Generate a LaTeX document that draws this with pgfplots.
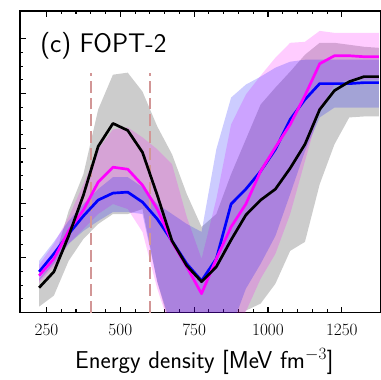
\documentclass[border=0pt]{standalone}
\usepackage{pgfplots}
\usepackage{pgfplotstable}
\pgfplotsset{compat=1.18}
\usepgfplotslibrary{fillbetween}

\definecolor{dashc}{RGB}{210,150,150}
\definecolor{mag}{RGB}{255,0,255}
\definecolor{blu}{RGB}{0,0,255}

% medians and band limits for the three models
\pgfplotstableread{
x    bk    mg    bl    gup   glo    mup   mlo    bup   blo
225  0.455 0.673 0.745 0.618 0.109  0.873 0.545  0.945 0.582
275  0.745 0.982 1.073 0.945 0.309  1.255 0.836  1.291 0.891
325  1.400 1.491 1.436 1.855 0.945  1.745 1.255  1.673 1.255
375  2.145 1.873 1.764 2.527 1.345  2.345 1.527  1.982 1.491
425  3.036 2.382 2.055 3.709 1.618  2.982 1.800  2.255 1.673
475  3.455 2.655 2.182 4.345 1.800  3.345 1.982  2.473 1.836
525  3.327 2.618 2.200 4.382 1.800  3.382 1.891  2.473 1.836
575  2.927 2.327 2.018 4.036 1.891  3.200 1.473  2.291 1.800
625  2.145 1.891 1.709 3.400 0.564  2.982 0.436  1.982 0.564
675  1.309 1.291 1.309 2.891 -0.382 2.709 -0.382 1.800 -0.291
725  0.855 0.836 0.891 2.164 -0.836 1.745 -0.836 1.618 -0.836
775  0.564 0.345 0.582 1.564 -1.018 0.982 -1.018 1.473 -1.018
825  0.836 0.982 0.982 1.800 -0.927 2.073 -0.927 2.982 -0.927
875  1.327 1.564 1.982 2.527 -0.291 3.436 -0.564 3.927 -0.291
925  1.782 1.982 2.255 3.164 0.036  3.982 0.018  4.164 0.436
975  2.055 2.582 2.582 3.800 0.164  4.327 0.618  4.309 0.891
1025 2.255 3.018 2.982 4.109 0.527  4.655 1.073  4.473 1.400
1075 2.636 3.436 3.527 4.400 1.127  4.927 1.800  4.582 2.164
1125 3.073 3.964 3.891 4.709 1.291  4.945 2.764  4.618 2.945
1175 3.709 4.545 4.182 4.927 2.345  5.145 3.709  4.618 3.564
1225 4.055 4.691 4.182 4.927 3.073  5.109 4.164  4.618 3.745
1275 4.218 4.691 4.182 4.891 3.564  5.109 4.255  4.618 3.745
1325 4.309 4.673 4.200 4.855 3.582  5.109 4.255  4.618 3.745
1375 4.309 4.673 4.200 4.836 3.582  5.109 4.255  4.618 3.745
}\bands

\begin{document}
\begin{tikzpicture}
\begin{axis}[
  at={(0,0)}, anchor=south west,
  scale only axis, width=362pt, height=303pt,
  xmin=160, xmax=1380, ymin=0, ymax=5.509,
  xtick={250,500,750,1000,1250}, minor x tick num=4,
  ytick={0,1,2,3,4,5}, minor y tick num=3, yticklabels={},
  /pgf/number format/1000 sep={},
  tick align=inside, xtick pos=both, ytick pos=left,
  major tick length=6pt, minor tick length=3.5pt,
  axis line style={line width=1.5pt},
  every tick/.style={black, line width=1.1pt},
  xticklabel style={font=\fontsize{19}{19}\selectfont, anchor=base, yshift=-23pt},
  xlabel={\textsf{Energy density [MeV fm$^{-3}$]}},
  xlabel style={font=\fontsize{24.5}{24.5}\selectfont, anchor=base,
    at={(axis description cs:0.512,-0.185)}},
  clip=true,
]
% phase-transition window
\addplot[dashc, line width=2.6pt, dash pattern=on 12pt off 5pt] coordinates {(400,0) (400,4.38)};
\addplot[dashc, line width=2.6pt, dash pattern=on 12pt off 5pt] coordinates {(600,0) (600,4.38)};

% credible bands
\addplot[name path=gu, draw=none] table[x=x, y=gup] {\bands};
\addplot[name path=gl, draw=none] table[x=x, y=glo] {\bands};
\addplot[black, fill opacity=0.2, draw=none] fill between[of=gu and gl];

\addplot[name path=mu, draw=none] table[x=x, y=mup] {\bands};
\addplot[name path=ml, draw=none] table[x=x, y=mlo] {\bands};
\addplot[mag, fill opacity=0.2, draw=none] fill between[of=mu and ml];

\addplot[name path=bu, draw=none] table[x=x, y=bup] {\bands};
\addplot[name path=bl, draw=none] table[x=x, y=blo] {\bands};
\addplot[blu, fill opacity=0.2, draw=none] fill between[of=bu and bl];

% medians
\addplot[blu, line width=2.7pt, line join=round] table[x=x, y=bl] {\bands};
\addplot[mag, line width=2.7pt, line join=round] table[x=x, y=mg] {\bands};
\addplot[black, line width=2.7pt, line join=round] table[x=x, y=bk] {\bands};

\node[anchor=base west, font=\sffamily\fontsize{27}{27}\selectfont]
  at (axis description cs:0.047,0.861) {(c) FOPT-2};
\end{axis}
\path[use as bounding box] (-20pt,-67pt) rectangle (359pt,314pt);
\end{tikzpicture}
\end{document}
